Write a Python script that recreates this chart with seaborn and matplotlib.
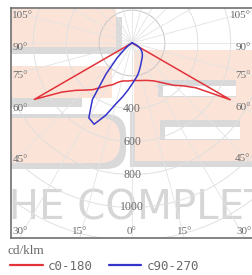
import numpy as np
import matplotlib
matplotlib.use("Agg")
import matplotlib.pyplot as plt
import matplotlib.patches as mpatches
import matplotlib.transforms as mtransforms
import seaborn as sns

sns.set_style("white")
plt.rcParams["font.family"] = ["DejaVu Sans"]

# ====================================
# data (cd/klm), gamma angle from nadir
# ====================================
gamma = [0, 5, 10, 15, 20, 25, 30, 35, 40, 45, 50, 55, 60, 65, 70, 75, 80, 85, 90]

c0 = [228, 229, 232, 236, 242, 252, 266, 290, 322, 364, 405, 475, 690, 0, 0, 0, 0, 0, 0]
c180 = [228, 232, 234, 240, 255, 280, 300, 330, 370, 405, 448, 520, 686, 0, 0, 0, 0, 0, 0]
c90 = [250, 222, 198, 172, 150, 132, 118, 108, 98, 88, 78, 65, 48, 30, 15, 5, 0, 0, 0]
c270 = [250, 288, 333, 385, 468, 545, 525, 420, 245, 128, 60, 25, 8, 0, 0, 0, 0, 0, 0]

radial_ticks = [400, 600, 800, 1000]
side_angles = [105, 90, 75, 60, 45]
bottom_angles = [30, 15, 0]

RED = "#e2323a"
BLUE = "#3434cc"
LABEL_COLOR = "#6a6a6a"
PEACH = "#fce3d7"
SHADOW = "#d9d9d9"

fig = plt.figure(figsize=(2.52, 2.75), dpi=100)
ax = fig.add_axes([11 / 252, 1 - 238 / 275, 241 / 252, 230 / 275])

XMIN, XMAX = -735.7, 729.6
YMIN, YMAX = -1185.6, 212.8
ax.set_autoscale_on(False)
ax.set_xlim(XMIN, XMAX)
ax.set_ylim(YMIN, YMAX)

# pixel transform for the background watermark (image coords, y down)
px = mtransforms.Affine2D().scale(1 / 100, -1 / 100).translate(0, 2.75) + fig.dpi_scale_trans


def box(x0, y0, x1, y1, color, rounded=False):
    if rounded:
        patch = mpatches.FancyBboxPatch(
            (x0, y0), x1 - x0, y1 - y0,
            boxstyle="round,pad=0,rounding_size=20",
            transform=px, fc=color, ec="none", zorder=0
        )
    else:
        patch = mpatches.Rectangle(
            (x0, y0), x1 - x0, y1 - y0,
            transform=px, fc=color, ec="none", zorder=0
        )
    ax.add_patch(patch)


# watermark logo (left letter)
box(11, 9, 116, 47, PEACH)
box(116, 17, 122, 54, SHADOW)
box(11, 47, 122, 54, SHADOW)
box(11, 66, 112, 98, PEACH)
box(11, 98, 82, 107, SHADOW)
box(-30, 114, 126, 169, SHADOW, rounded=True)
box(-30, 118, 120, 163, PEACH, rounded=True)

# watermark logo (right letter)
box(134, 50, 252, 161, PEACH)
box(158, 80, 236, 97, SHADOW)
box(163, 86, 236, 96, "white")
box(160, 120, 240, 140, SHADOW)
box(165, 127, 240, 139, "white")
box(134, 161, 252, 167, SHADOW)
box(130, 112, 135, 167, SHADOW)

ax.text(-16, 220, "THE COMPLETE", transform=px, fontsize=29,
        color="#d6d6d6", ha="left", va="baseline", zorder=0.5, clip_on=True)

# polar grid
for r in [200, 400, 600, 800, 1000, 1200, 1400]:
    ax.add_patch(mpatches.Circle(
        (0, 0), r, fill=False,
        ec="#c6c6c6" if r == 200 else "#e0e0e0",
        lw=0.7, zorder=1
    ))

for a in range(0, 360, 15):
    t = np.radians(a)
    ax.plot([0, 3000 * np.sin(t)], [0, -3000 * np.cos(t)],
            color="#e3e3e3", lw=0.6, zorder=1)


def polar_curve(left, right):
    g = np.radians(gamma)
    left = np.asarray(left, dtype=float)
    right = np.asarray(right, dtype=float)
    x = np.concatenate([-np.sin(g[::-1]) * left[::-1], np.sin(g) * right])
    y = np.concatenate([-np.cos(g[::-1]) * left[::-1], -np.cos(g) * right])
    return x, y


x_red, y_red = polar_curve(c180, c0)
x_blue, y_blue = polar_curve(c270, c90)

sns.lineplot(x=x_red, y=y_red, sort=False, estimator=None,
             color=RED, lw=1.1, label="c0-180", ax=ax, zorder=3)
sns.lineplot(x=x_blue, y=y_blue, sort=False, estimator=None,
             color=BLUE, lw=1.1, label="c90-270", ax=ax, zorder=3)

# angle labels
serif = dict(family="Liberation Serif", fontsize=8, color=LABEL_COLOR, zorder=2)
va_map = {105: "top", 90: "top", 75: "center", 60: "bottom", 45: "bottom"}
pad_x = 8
for a in side_angles:
    t = np.radians(a)
    y_left = XMIN * np.cos(t) / np.sin(t)
    y_right = -XMAX * np.cos(t) / np.sin(t)
    ax.text(XMIN + pad_x, y_left, f"{a}°", ha="left", va=va_map[a], **serif)
    ax.text(XMAX - pad_x, y_right, f"{a}°", ha="right", va=va_map[a], **serif)

for a in bottom_angles:
    t = np.radians(a)
    xb = -YMIN * np.tan(t)
    for sx in ([-1, 1] if a else [1]):
        xpos = sx * xb
        xpos = min(max(xpos, XMIN + 55), XMAX - 50)
        ax.text(xpos, YMIN + 12, f"{a}°", ha="center", va="bottom", **serif)

for r in radial_ticks:
    ax.text(0, -r, str(r), ha="center", va="center",
            family="Liberation Serif", fontsize=8.5, color=LABEL_COLOR, zorder=2)

ax.set_xticks([])
ax.set_yticks([])
ax.set_xlabel("")
ax.set_ylabel("")
for side in ["top", "left", "bottom"]:
    ax.spines[side].set_color("#707070")
    ax.spines[side].set_linewidth(1.2)
    ax.spines[side].set_zorder(4)
ax.spines["right"].set_visible(False)

handles, labels = ax.get_legend_handles_labels()
ax.get_legend().remove()

fig.text(8 / 252, 1 - 251 / 275, "cd/klm", family="Liberation Serif",
         fontsize=9.5, color=LABEL_COLOR, ha="left", va="center")

leg = fig.legend(
    handles, labels,
    loc="center left",
    bbox_to_anchor=(10 / 252, 1 - 266 / 275),
    ncol=2,
    frameon=False,
    prop={"family": "DejaVu Sans Mono", "size": 9},
    handlelength=2.6,
    handletextpad=0.4,
    columnspacing=1.3,
    borderpad=0,
    borderaxespad=0,
    labelcolor=LABEL_COLOR
)
for h in leg.legend_handles:
    h.set_linewidth(1.6)

fig.savefig("out.png", dpi=100)
